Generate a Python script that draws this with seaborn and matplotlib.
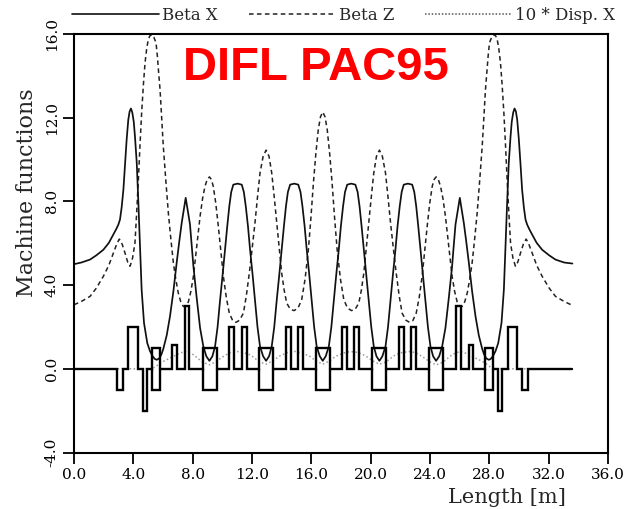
import numpy as np
import pandas as pd
import matplotlib
matplotlib.use("Agg")
import matplotlib.pyplot as plt
from matplotlib.lines import Line2D
import seaborn as sns

# ---------------- data ----------------
betax_s = [0.00, 0.50, 1.08, 1.50, 1.98, 2.35, 2.65, 2.85, 2.99, 3.10,
           3.21, 3.33, 3.44, 3.55, 3.66, 3.75, 3.84, 3.93, 4.03, 4.11,
           4.23, 4.34, 4.45, 4.56, 4.72, 4.94, 5.12, 5.30, 5.45, 5.58,
           5.75, 5.90, 6.02, 6.25, 6.47, 6.70, 6.92, 7.10, 7.26, 7.40,
           7.53, 7.66, 7.82, 7.95, 8.05, 8.27, 8.50, 8.72, 8.92, 9.13,
           9.33, 9.51, 9.68, 9.85, 10.02, 10.18, 10.33, 10.47, 10.60, 10.74,
           11.03, 11.31, 11.45, 11.58, 11.73, 11.87, 12.04, 12.20, 12.37, 12.54,
           12.75, 12.95, 13.15, 13.33, 13.50, 13.67, 13.84, 14.00, 14.15, 14.29,
           14.42, 14.57, 14.85, 15.12, 15.27, 15.40, 15.55, 15.69, 15.86, 16.02,
           16.19, 16.36, 16.57, 16.77,
           16.97, 17.18, 17.35, 17.52, 17.68, 17.85, 17.99, 18.14, 18.27, 18.42,
           18.69, 18.97, 19.12, 19.25, 19.39, 19.54, 19.70, 19.87, 20.04, 20.21,
           20.39, 20.59, 20.79, 21.00, 21.17, 21.34, 21.50, 21.67, 21.81, 21.96,
           22.09, 22.23, 22.51, 22.80, 22.94, 23.07, 23.21, 23.36, 23.52, 23.69,
           23.86, 24.03, 24.21, 24.41, 24.62, 24.82, 25.04, 25.27, 25.49, 25.59,
           25.72, 25.88, 26.01, 26.14, 26.28, 26.44, 26.62, 26.84, 27.07, 27.29,
           27.52, 27.64, 27.79, 27.96, 28.09, 28.24, 28.42, 28.60, 28.82, 28.98,
           29.09, 29.20, 29.31, 29.43, 29.51, 29.61, 29.70, 29.79, 29.88, 29.99,
           30.10, 30.21, 30.33, 30.44, 30.55, 30.69, 30.89, 31.19, 31.56, 32.04,
           32.46, 33.04, 33.60]
betax = [5.00, 5.08, 5.22, 5.42, 5.69, 6.02, 6.41, 6.68, 6.89, 7.13,
         7.70, 8.56, 9.80, 10.96, 11.90, 12.30, 12.44, 12.25, 11.80, 11.10,
         9.84, 7.93, 5.85, 3.78, 2.19, 1.23, 0.85, 0.60, 0.47, 0.43,
         0.50, 0.70, 0.95, 1.60, 2.50, 3.70, 5.06, 6.10, 6.97, 7.60,
         8.17, 7.60, 6.90, 5.80, 4.90, 3.40, 1.95, 1.07, 0.60, 0.38,
         0.60, 1.07, 2.00, 3.30, 4.50, 5.69, 6.80, 7.77, 8.45, 8.80,
         8.85, 8.80, 8.45, 7.77, 6.80, 5.69, 4.50, 3.30, 2.00, 1.07,
         0.60, 0.38, 0.60, 1.07, 2.00, 3.30, 4.50, 5.69, 6.80, 7.77,
         8.45, 8.80, 8.85, 8.80, 8.45, 7.77, 6.80, 5.69, 4.50, 3.30,
         2.00, 1.07, 0.60, 0.38,
         0.60, 1.07, 2.00, 3.30, 4.50, 5.69, 6.80, 7.77, 8.45, 8.80,
         8.85, 8.80, 8.45, 7.77, 6.80, 5.69, 4.50, 3.30, 2.00, 1.07,
         0.60, 0.38, 0.60, 1.07, 2.00, 3.30, 4.50, 5.69, 6.80, 7.77,
         8.45, 8.80, 8.85, 8.80, 8.45, 7.77, 6.80, 5.69, 4.50, 3.30,
         2.00, 1.07, 0.60, 0.38, 0.60, 1.07, 1.95, 3.40, 4.90, 5.80,
         6.90, 7.60, 8.17, 7.60, 6.97, 6.10, 5.06, 3.70, 2.50, 1.60,
         0.95, 0.70, 0.50, 0.43, 0.47, 0.60, 0.85, 1.23, 2.19, 3.78,
         5.85, 7.93, 9.84, 11.10, 11.80, 12.25, 12.44, 12.30, 11.90, 10.96,
         9.80, 8.56, 7.70, 7.13, 6.89, 6.68, 6.41, 6.02, 5.69, 5.42,
         5.22, 5.08, 5.03]

betaz_s = [0.00, 0.50, 1.08, 1.50, 1.98, 2.35, 2.65, 2.90, 3.06, 3.25,
           3.44, 3.62, 3.78, 3.95, 4.11, 4.22, 4.34, 4.45, 4.56, 4.68,
           4.79, 4.90, 5.01, 5.12, 5.24, 5.38, 5.53, 5.62, 5.69, 5.80,
           5.91, 6.02, 6.19, 6.36, 6.53, 6.70, 6.87, 7.03, 7.20, 7.37,
           7.55, 7.71, 7.88, 8.05, 8.28, 8.50, 8.67, 8.83, 8.98, 9.13,
           9.26, 9.39, 9.56, 9.73, 9.90, 10.07, 10.27, 10.47, 10.70, 10.92,
           11.16, 11.42, 11.62, 11.82, 12.01, 12.20, 12.37, 12.54, 12.75, 12.95,
           13.15, 13.33, 13.50, 13.67, 13.84, 14.00, 14.17, 14.34, 14.58, 14.83,
           15.10, 15.35, 15.58, 15.80, 15.97, 16.14, 16.30, 16.47, 16.62, 16.77,
           16.92, 17.07, 17.24, 17.40, 17.57, 17.74, 17.96, 18.19, 18.44, 18.71,
           18.96, 19.20, 19.37, 19.54, 19.70, 19.87, 20.04, 20.21, 20.39, 20.59,
           20.79, 21.00, 21.17, 21.34, 21.53, 21.72, 21.92, 22.12, 22.38, 22.62,
           22.84, 23.07, 23.27, 23.47, 23.64, 23.81, 23.98, 24.15, 24.28, 24.41,
           24.56, 24.71, 24.87, 25.04, 25.26, 25.49, 25.66, 25.83, 25.99, 26.17,
           26.34, 26.51, 26.67, 26.84, 27.01, 27.18, 27.35, 27.52, 27.63, 27.74,
           27.85, 27.92, 28.01, 28.16, 28.30, 28.42, 28.53, 28.64, 28.75, 28.86,
           28.98, 29.09, 29.20, 29.32, 29.43, 29.59, 29.76, 29.92, 30.10, 30.29,
           30.48, 30.64, 30.89, 31.19, 31.56, 32.04, 32.46, 33.04, 33.60]
betaz = [3.06, 3.22, 3.46, 3.85, 4.42, 4.95, 5.53, 6.00, 6.20, 5.95,
         5.53, 5.10, 4.90, 5.30, 6.01, 7.40, 9.04, 10.70, 12.23, 13.60,
         14.63, 15.30, 15.74, 15.92, 15.97, 15.85, 15.58, 14.95, 14.30, 13.35,
         12.00, 10.64, 9.00, 7.45, 6.20, 5.06, 4.25, 3.62, 3.20, 2.98,
         3.00, 3.20, 3.70, 4.42, 5.90, 7.29, 8.15, 8.72, 9.05, 9.17,
         9.05, 8.72, 7.90, 6.81, 5.60, 4.42, 3.40, 2.66, 2.30, 2.22,
         2.32, 2.66, 3.50, 4.58, 5.75, 6.97, 8.20, 9.36, 10.15, 10.45,
         10.15, 9.36, 8.20, 6.97, 5.75, 4.58, 3.75, 3.14, 2.85, 2.78,
         2.90, 3.30, 4.30, 5.69, 7.20, 8.88, 10.25, 11.44, 12.05, 12.27,
         12.05, 11.44, 10.25, 8.88, 7.20, 5.69, 4.30, 3.30, 2.90, 2.78,
         2.85, 3.14, 3.75, 4.58, 5.75, 6.97, 8.20, 9.36, 10.15, 10.45,
         10.15, 9.36, 8.20, 6.97, 5.75, 4.58, 3.50, 2.66, 2.32, 2.22,
         2.30, 2.66, 3.40, 4.42, 5.60, 6.81, 7.90, 8.72, 9.05, 9.17,
         9.05, 8.72, 8.15, 7.29, 5.90, 4.42, 3.70, 3.20, 3.00, 2.98,
         3.20, 3.62, 4.25, 5.06, 6.20, 7.45, 9.00, 10.64, 12.00, 13.35,
         14.30, 14.95, 15.58, 15.85, 15.97, 15.92, 15.74, 15.30, 14.63, 13.60,
         12.23, 10.70, 9.04, 7.40, 6.01, 5.30, 4.90, 5.10, 5.53, 5.95,
         6.20, 6.00, 5.53, 4.95, 4.42, 3.85, 3.46, 3.22, 3.03]

disp_s = [0.00, 5.20, 5.50, 5.80, 6.15, 6.47, 6.80, 7.10, 7.48, 7.80,
          8.05, 8.35, 8.65, 9.12, 9.55, 9.80, 10.07, 10.50, 10.97, 11.45,
          11.87, 12.20, 12.50, 12.95, 13.40, 13.89, 14.40, 14.90, 15.40, 15.91,
          16.30, 16.77,
          17.24, 17.63, 18.14, 18.64, 19.14, 19.65, 20.14, 20.59, 21.04, 21.34,
          21.67, 22.09, 22.57, 23.04, 23.47, 23.74, 23.99, 24.42, 24.89, 25.19,
          25.49, 25.74, 26.06, 26.44, 26.74, 27.07, 27.39, 27.74, 28.04, 28.34,
          33.60]
disp10 = [0.00, 0.00, 0.10, 0.27, 0.40, 0.51, 0.63, 0.74, 0.83, 0.76,
          0.67, 0.50, 0.32, 0.19, 0.33, 0.46, 0.59, 0.77, 0.83, 0.77,
          0.67, 0.50, 0.33, 0.22, 0.38, 0.62, 0.78, 0.83, 0.75, 0.59,
          0.38, 0.22,
          0.38, 0.59, 0.75, 0.83, 0.78, 0.62, 0.38, 0.22, 0.33, 0.50,
          0.67, 0.77, 0.83, 0.77, 0.59, 0.46, 0.33, 0.19, 0.32, 0.50,
          0.67, 0.76, 0.83, 0.74, 0.63, 0.51, 0.40, 0.27, 0.10, 0.00,
          0.00]

# lattice elements
single_start = [2.92, 3.66, 4.67, 6.61, 7.46, 10.47, 11.31, 14.30, 15.13,
                18.08, 18.91, 21.90, 22.73, 25.76, 26.62, 28.60, 29.23, 30.21]
single_end = [3.33, 4.31, 4.94, 6.92, 7.78, 10.81, 11.64, 14.63, 15.46,
              18.41, 19.24, 22.23, 23.07, 26.08, 26.93, 28.87, 29.88, 30.62]
single_height = [-1.0, 2.0, -2.0, 1.15, 3.0, 2.0, 2.0, 2.0, 2.0,
                 2.0, 2.0, 2.0, 2.0, 3.0, 1.15, -2.0, 2.0, -1.0]
quad_start = [5.28, 8.68, 12.50, 16.30, 20.10, 23.92, 27.74]
quad_end = [5.80, 9.62, 13.44, 17.24, 21.04, 24.86, 28.26]
quad_half = 1.0
lattice_length = 33.60

x_ticks = [0, 4, 8, 12, 16, 20, 24, 28, 32, 36]
y_ticks = [-4, 0, 4, 8, 12, 16]
series_names = ["Beta X", "Beta Z", "10 * Disp. X"]
title_text = "DIFL PAC95"
x_label = "Length [m]"
y_label = "Machine functions"

# ---------------- figure ----------------
sns.set_theme(style="ticks")
plt.rcParams['font.family'] = ['DejaVu Serif', 'DejaVu Sans']

W, H = 631, 509
fig = plt.figure(figsize=(W / 100, H / 100), dpi=100)
fig.patch.set_facecolor("white")
ax_l, ax_r, ax_t, ax_b = 74, 608, 34, 452.5
ax = fig.add_axes([ax_l / W, 1 - ax_b / H, (ax_r - ax_l) / W, (ax_b - ax_t) / H])
ax.set_facecolor("white")

df_x = pd.DataFrame({"s": betax_s, "v": betax})
df_z = pd.DataFrame({"s": betaz_s, "v": betaz})
df_d = pd.DataFrame({"s": disp_s, "v": disp10})

sns.lineplot(data=df_d, x="s", y="v", ax=ax, color="#9a9a9a", lw=1.1,
             linestyle=(0, (1, 1.6)), estimator=None, sort=False)
sns.lineplot(data=df_z, x="s", y="v", ax=ax, color="#222222", lw=1.1,
             linestyle=(0, (3, 2.2)), estimator=None, sort=False)
sns.lineplot(data=df_x, x="s", y="v", ax=ax, color="#111111", lw=1.25,
             estimator=None, sort=False)

# lattice element outline
elems = [(s, e, h, False) for s, e, h in zip(single_start, single_end, single_height)]
elems += [(s, e, quad_half, True) for s, e in zip(quad_start, quad_end)]
elems.sort()
px, py = [0.0], [0.0]
for s, e, h, is_quad in elems:
    if is_quad:
        px += [s, s, e, e, s, s, np.nan, e]
        py += [0, h, h, -h, -h, 0, np.nan, 0]
    else:
        px += [s, s, e, e]
        py += [0, h, h, 0]
px.append(lattice_length)
py.append(0.0)
ax.plot(px, py, color="black", lw=1.7, solid_joinstyle="miter")

ax.set_xlim(0, 36)
ax.set_ylim(-4, 16)
ax.set_xticks(x_ticks)
ax.set_xticklabels([f"{v:.1f}" for v in x_ticks])
ax.set_yticks(y_ticks)
ax.set_yticklabels([f"{v:.1f}" for v in y_ticks])
ax.tick_params(axis="both", direction="out", length=8, width=1.3, color="black",
               labelsize=11, labelcolor="black", pad=3)
for lab in ax.get_yticklabels():
    lab.set_rotation(90)
    lab.set_va("center")
for sp in ax.spines.values():
    sp.set_visible(True)
    sp.set_linewidth(1.5)
    sp.set_color("black")
ax.set_xlabel("")
ax.set_ylabel("")
ax.grid(False)
if ax.get_legend():
    ax.get_legend().remove()

# legend above the axes
handles = [Line2D([], [], color="#111111", lw=1.2),
           Line2D([], [], color="#222222", lw=1.1, linestyle=(0, (3, 2.2))),
           Line2D([], [], color="#555555", lw=1.1, linestyle=(0, (1, 1.2)))]
fig.legend(handles, series_names, loc="upper left",
           bbox_to_anchor=(72 / W, 1 - 7 / H), ncol=3, frameon=False,
           fontsize=12, handlelength=5.2, handletextpad=0.2,
           columnspacing=1.85, borderpad=0, borderaxespad=0)

fig.text(183 / W, 1 - 80 / H, title_text, color="#ff0000", fontsize=34,
         fontweight="bold", family=["Liberation Sans", "DejaVu Sans"],
         ha="left", va="baseline")
fig.text(27 / W, 1 - 193 / H, y_label, rotation=90, fontsize=16,
         ha="center", va="center")
fig.text(507 / W, 1 - 488 / H, x_label, fontsize=15, ha="center", va="top")

fig.savefig("out.png", dpi=100, facecolor="white")
